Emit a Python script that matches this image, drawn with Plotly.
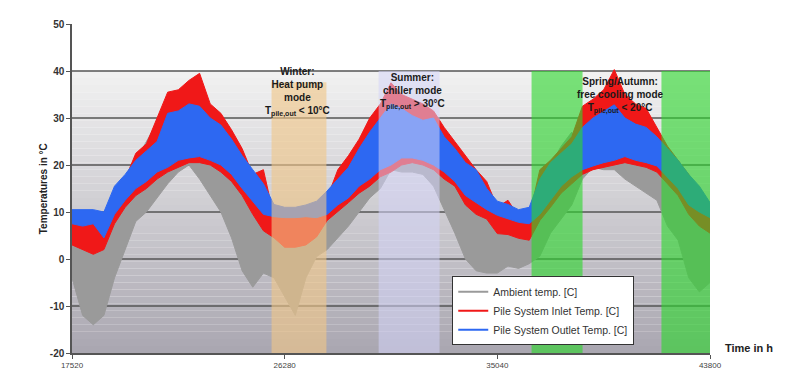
import plotly.graph_objects as go

# sample times (h), one every 438 h
hours = list(range(17520, 43801, 438))

# envelopes (min / max per sample), in degC
ambient_hi = [6, 5, 5, 4, 8, 12, 21, 25, 29, 30, 27, 24, 23, 22, 21, 20, 18, 14, 12, 10,
              9, 9, 9, 10, 11, 16, 21, 24, 27, 29, 26, 24, 22, 22, 21, 23, 20, 17, 17, 12,
              9, 9, 8, 8, 15, 20, 24, 27, 22, 21, 22.5, 23, 22, 21.5, 21, 21, 22, 20, 15, 12, 10]
ambient_lo = [-4, -12, -14, -12, -4, 2, 8, 10, 13, 16, 18.5, 20, 17, 13.5, 10, 4.5, -2.5, -6, -3, -4,
              -8, -12, -4, 0.5, 2, 4.5, 7, 10, 13, 15, 19, 18.5, 18.5, 18, 15.5, 10.5, 5.5, 0, -2.5, -3,
              -3, -1.5, -2, -1, 0.6, 5.5, 8.5, 11.5, 17, 19.5, 19, 19, 17, 15.5, 14, 12.5, 7, 4, -4, -7, -5]
inlet_hi = [9, 9, 9, 8, 14, 17, 22.5, 24.5, 30, 35.5, 36, 38, 39.5, 33, 31, 27.5, 23.5, 18, 19, 9,
            9, 9, 9, 10, 13, 19, 22, 25.5, 30, 33, 37.5, 35, 34, 33, 31.5, 28, 25, 22, 19, 16.5,
            11, 12.5, 9, 9, 19, 21, 23.5, 26, 32.5, 34, 36, 40.3, 35, 33, 32, 28, 24, 21, 18, 14, 11]
inlet_lo = [3, 2, 1, 2, 7.5, 11, 13.5, 15, 17, 18.5, 19.5, 20.5, 20.5, 20, 18.5, 16.5, 13.5, 9.5, 6, 4.5,
            2.5, 2.5, 3, 4.7, 8.2, 10, 12, 14, 15.5, 17.5, 18.5, 20, 20.5, 20, 19, 17, 15.5, 11.5, 9.5, 8.5,
            5.4, 5.2, 4.4, 4, 8.2, 11, 14, 16, 18, 19, 19.5, 20, 20.5, 20, 19.5, 18.5, 16, 13.5, 9.5, 7, 5.5]
outlet_hi = [10.5, 10.5, 10.5, 10, 15.5, 18, 21, 23, 25, 31, 31.5, 33, 32.5, 30, 28.5, 25.5, 22, 19, 16, 11.6,
             11, 11, 11.5, 12.3, 14.5, 17, 19.5, 23.5, 27, 30, 33, 32, 30.5, 29.5, 30, 26, 23.5, 20.5, 19, 15,
             12.3, 11.6, 10.5, 11, 17, 20.5, 22.5, 24.5, 28, 30, 31.4, 32.8, 30, 28.7, 28, 26, 23.5, 21, 18, 15.5, 12]
outlet_lo = [7.5, 7, 7.5, 4.5, 9.5, 12.5, 15, 16.5, 18.5, 19.5, 21, 21.5, 21.8, 21, 20, 18, 15, 12.3, 9.5, 9,
             8.8, 8.8, 9, 8.8, 9.5, 11.5, 13, 15.5, 17, 19, 20, 21.5, 21.5, 21, 20, 18.5, 16.5, 13.5, 12, 10.5,
             9.3, 8.5, 7.8, 7.5, 9.5, 12.5, 15.5, 17.5, 19, 19.8, 20.5, 21, 21.8, 21, 20.5, 19.8, 17.5, 15, 11.5, 10, 8.8]

x_ticks = [17520, 26280, 35040, 43800]
y_ticks = [-20, -10, 0, 10, 20, 30, 40, 50]
grid_levels = [-10, 0, 10, 20, 30, 40]

# operating-mode periods (h)
winter = (25740, 28000)
summer = (30150, 32660)
free_cooling = [(36450, 38550), (41800, 43800)]

series = [
    ("Ambient temp. [C]", ambient_lo, ambient_hi, "#9a9a9a"),
    ("Pile System Inlet Temp. [C]", inlet_lo, inlet_hi, "#f01818"),
    ("Pile System Outlet Temp. [C]", outlet_lo, outlet_hi, "#2d68f2"),
]

fig = go.Figure()

for name, lo, hi, color in series:
    fig.add_trace(go.Scatter(x=hours, y=lo, mode="lines", line=dict(color=color, width=1),
                             showlegend=False, hoverinfo="skip"))
    fig.add_trace(go.Scatter(x=hours, y=hi, mode="lines", line=dict(color=color, width=1),
                             fill="tonexty", fillcolor=color, showlegend=False, hoverinfo="skip"))

# legend entries
for name, lo, hi, color in series:
    fig.add_trace(go.Scatter(x=[None], y=[None], mode="lines", name=name,
                             line=dict(color=color, width=2)))

shapes = []

# grey gradient plot background (40 down to -20)
n_steps = 40
top_rgb = (242, 242, 242)
bot_rgb = (170, 167, 177)
for k in range(n_steps):
    f = (k + 0.5) / n_steps
    c = tuple(int(top_rgb[j] + (bot_rgb[j] - top_rgb[j]) * f) for j in range(3))
    y1 = 40 - 60 * k / n_steps
    y0 = 40 - 60 * (k + 1) / n_steps
    shapes.append(dict(type="rect", xref="x", yref="y", x0=17520, x1=43800, y0=y0, y1=y1,
                       fillcolor="rgb(%d,%d,%d)" % c, line=dict(width=0), layer="below"))

for g in grid_levels:
    shapes.append(dict(type="line", xref="x", yref="y", x0=17520, x1=43800, y0=g, y1=g,
                       line=dict(color="#555555", width=1.5), layer="between"))

# mode overlays
shapes.append(dict(type="rect", xref="x", yref="y", x0=winter[0], x1=winter[1], y0=-21.5, y1=37.6,
                   fillcolor="rgba(240,198,135,0.62)", line=dict(width=0), layer="above"))
shapes.append(dict(type="rect", xref="x", yref="y", x0=summer[0], x1=summer[1], y0=-20, y1=40,
                   fillcolor="rgba(212,212,248,0.55)", line=dict(width=0), layer="above"))
for a, b in free_cooling:
    shapes.append(dict(type="rect", xref="x", yref="y", x0=a, x1=b, y0=-20, y1=40,
                       fillcolor="rgba(45,215,45,0.62)", line=dict(width=0), layer="above"))

fig.update_layout(shapes=shapes)

bold = dict(family="Liberation Sans, Arial", size=10, color="#1a1a1a")
fig.add_annotation(x=26790, y=41.5, xref="x", yref="y", yanchor="top", showarrow=False,
                   text="<b>Winter:<br>Heat pump<br>mode<br>T<sub>pile,out</sub> < 10°C</b>", font=bold)
fig.add_annotation(x=31560, y=40.2, xref="x", yref="y", yanchor="top", showarrow=False,
                   text="<b>Summer:<br>chiller mode<br>T<sub>pile,out</sub> > 30°C</b>", font=bold)
fig.add_annotation(x=40100, y=39.3, xref="x", yref="y", yanchor="top", showarrow=False,
                   text="<b>Spring/Autumn:<br>free cooling mode<br>T<sub>pile,out</sub> < 20°C</b>", font=bold)

fig.add_annotation(x=-0.056, y=0.5, xref="paper", yref="paper", textangle=-90, showarrow=False,
                   text="<b>Temperatures in °C</b>",
                   font=dict(family="Liberation Sans, Arial", size=10, color="#222222"))
fig.add_annotation(x=1.02, y=-18.9, xref="paper", yref="y", xanchor="left", showarrow=False,
                   text="<b>Time in h</b>",
                   font=dict(family="Liberation Sans, Arial", size=11, color="#222222"))

fig.update_xaxes(range=[17520, 43800], tickvals=x_ticks, ticktext=[str(v) for v in x_ticks],
                 showgrid=False, zeroline=False, showline=True, linecolor="#555555", linewidth=1.5,
                 ticks="outside", ticklen=4, tickcolor="#555555",
                 tickfont=dict(family="Liberation Sans, Arial", size=8, color="#444444"))
fig.update_yaxes(range=[-20, 50], tickvals=y_ticks, ticktext=["<b>%d</b>" % v for v in y_ticks],
                 showgrid=False, zeroline=False,
                 showline=True, linecolor="#555555", linewidth=1.5,
                 ticks="outside", ticklen=4, tickcolor="#555555",
                 tickfont=dict(family="Liberation Sans, Arial", size=10, color="#333333"))

fig.update_layout(
    width=794, height=372,
    margin=dict(l=64, r=92, t=10, b=22),
    paper_bgcolor="white", plot_bgcolor="white",
    legend=dict(x=0.596, y=0.233, xanchor="left", yanchor="top", traceorder="normal",
                bgcolor="white", bordercolor="#333333", borderwidth=1,
                font=dict(family="Liberation Sans, Arial", size=10.5, color="#333333"),
                tracegroupgap=0),
)

fig.write_html("out.html")
